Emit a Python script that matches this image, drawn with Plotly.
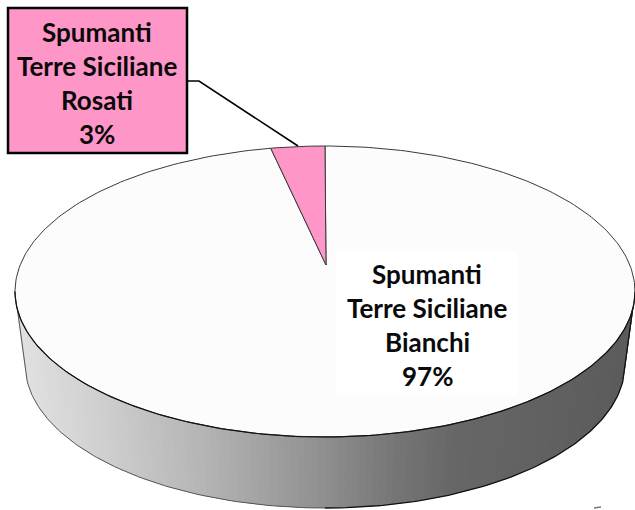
import numpy as np
import plotly.graph_objects as go

# Data
categories = ["Bianchi", "Rosati"]
shares = [97.2, 2.8]
prefix_lines = ["Spumanti", "Terre Siciliane"]
slice_colors = ["#FCFCFC", "#FF96C8"]

# Drawing geometry of the tilted disc (pixel-like axes)
W, H = 635, 510
TOP = dict(cx=325, cy=291.5, rx=310, ry=145.5)
BOT = dict(cx=325, cy=364, rx=300, ry=144)
APEX = (326, 265)
FONT = "Lato"
TEXT = "#0A0A0A"


def pt(e, deg):
    a = np.radians(deg)
    return e["cx"] + e["rx"] * np.sin(a), e["cy"] - e["ry"] * np.cos(a)


def side_color(x):
    xs = [15, 100, 200, 320, 400, 460, 540, 635]
    vs = [226, 208, 182, 146, 118, 103, 98, 92]
    v = int(np.interp(x, xs, vs))
    return f"rgb({v},{v},{v})"


fig = go.Figure()


def poly(xs, ys, fill, line="rgba(0,0,0,0)", width=0, mode="lines"):
    fig.add_trace(go.Scatter(x=list(xs), y=list(ys), mode=mode, fill="toself", fillcolor=fill,
                             line=dict(color=line, width=width), hoverinfo="skip", showlegend=False))


# Side wall: vertical shaded strips around the front half
angles = np.linspace(270, 90, 141)
for a0, a1 in zip(angles[:-1], angles[1:]):
    a2 = max(a1 - 1.3, 90)
    tx0, ty0 = pt(TOP, a0)
    tx1, ty1 = pt(TOP, a2)
    bx0, by0 = pt(BOT, a0)
    bx1, by1 = pt(BOT, a2)
    poly([tx0, tx1, bx1, bx0, tx0], [ty0, ty1, by1, by0, ty0], side_color((tx0 + tx1) / 2))

# Side wall outline
arc = np.linspace(180, 270, 90)
lx, ly = pt(BOT, arc)
fig.add_trace(go.Scatter(x=np.r_[pt(TOP, 270)[0], lx[::-1]], y=np.r_[pt(TOP, 270)[1], ly[::-1]], mode="lines",
                         line=dict(color="#555555", width=1), hoverinfo="skip", showlegend=False))
arc = np.linspace(90, 180, 90)
rx_, ry_ = pt(BOT, arc)
fig.add_trace(go.Scatter(x=np.r_[pt(TOP, 90)[0], rx_], y=np.r_[pt(TOP, 90)[1], ry_], mode="lines",
                         line=dict(color="#111111", width=1.3), hoverinfo="skip", showlegend=False))

# Top face slices, clockwise from twelve o'clock
start = 0.0
for name, share, color in zip(categories, shares, slice_colors):
    span = share / sum(shares) * 360
    th = np.linspace(start, start + span, max(int(span), 4))
    ex, ey = pt(TOP, th)
    poly(np.r_[APEX[0], ex, APEX[0]], np.r_[APEX[1], ey, APEX[1]], color, "#3A3A3A", 1)
    start += span

# Front rim is darker
arc = np.linspace(90, 270, 180)
fx, fy = pt(TOP, arc)
fig.add_trace(go.Scatter(x=fx, y=fy, mode="lines", line=dict(color="#111111", width=1.2),
                         hoverinfo="skip", showlegend=False))

shapes = [
    dict(type="rect", x0=8, x1=187, y0=8, y1=153, fillcolor="#FF96C8", line=dict(color="#000000", width=2.5), layer="above"),
    dict(type="rect", x0=336, x1=517, y0=251, y1=396, fillcolor="#FFFFFF", line=dict(width=0), layer="above"),
    dict(type="path", path="M188,81 L199,81 L298,146", line=dict(color="#000000", width=1.6), layer="above"),
    dict(type="line", x0=594, x1=601, y0=508, y1=507, line=dict(color="#777777", width=1.5), layer="above"),
]

annotations = []
label_pos = {"Rosati": (97, 32), "Bianchi": (427, 274)}
for name, share in zip(categories, shares):
    lx0, ly0 = label_pos[name]
    lines = prefix_lines + [name, f"{share:.0f}%"]
    for i, line in enumerate(lines):
        annotations.append(dict(x=lx0, y=ly0 + i * 34, xref="x", yref="y", text=f"<b>{line}</b>", showarrow=False,
                                xanchor="center", yanchor="middle",
                                font=dict(family=FONT, size=26, color=TEXT)))

fig.update_layout(width=W, height=H, margin=dict(l=0, r=0, t=0, b=0), paper_bgcolor="white", plot_bgcolor="white",
                  showlegend=False, shapes=shapes, annotations=annotations,
                  xaxis=dict(range=[0, W], visible=False, fixedrange=True),
                  yaxis=dict(range=[H, 0], visible=False, fixedrange=True))
fig.write_html("out.html", config={"displayModeBar": False},
               post_script="document.body.style.margin='0';document.documentElement.style.overflow='hidden';")
